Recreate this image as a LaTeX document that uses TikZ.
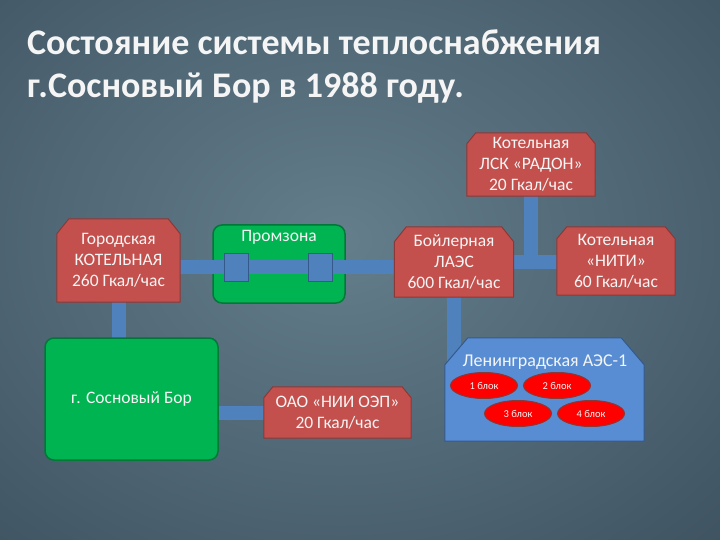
\documentclass[tikz,border=0pt]{standalone}
\usepackage{fontspec}
\setmainfont{Carlito}
\usetikzlibrary{shapes.geometric,calc}

\definecolor{bgin}{RGB}{100,126,140}
\definecolor{bgmid}{RGB}{48,66,80}
\definecolor{bgout}{RGB}{28,38,50}
\definecolor{boxred}{RGB}{196,80,77}
\definecolor{edgered}{RGB}{140,56,54}
\definecolor{boxgreen}{RGB}{0,180,82}
\definecolor{edgegreen}{RGB}{0,120,55}
\definecolor{pipeblue}{RGB}{79,129,189}
\definecolor{edgeblue}{RGB}{52,90,140}
\definecolor{laesblue}{RGB}{88,141,212}
\definecolor{unitred}{RGB}{255,0,0}
\definecolor{textwhite}{RGB}{245,245,245}

\pgfdeclareradialshading{slidebg}{\pgfpoint{0bp}{0bp}}{color(0bp)=(bgin); color(50bp)=(bgmid); color(71bp)=(bgout)}
\pgfdeclarelayer{back}
\pgfdeclarelayer{low}
\pgfdeclarelayer{pipes}
\pgfdeclarelayer{shapes}
\pgfsetlayers{back,low,pipes,shapes,main}

% box with both top corners cut off: node, cut x, cut y, style
\newcommand{\cutbox}[4]{%
  \begin{pgfonlayer}{shapes}
    \filldraw[#4] (#1.south west) -- ($(#1.north west)+(0,#3)$) -- ($(#1.north west)+(#2,0)$)
      -- ($(#1.north east)+(-#2,0)$) -- ($(#1.north east)+(0,#3)$) -- (#1.south east) -- cycle;
  \end{pgfonlayer}}

\begin{document}
\begin{tikzpicture}[x=1pt,y=-1pt,
    boxtext/.style={text=textwhite,font=\fontsize{17.5}{21}\selectfont,align=center},
    plant/.style={boxtext,rectangle,inner sep=0pt},
    cutred/.style={fill=boxred,draw=edgered,line width=1pt},
    cutblue/.style={fill=laesblue,draw=edgeblue,line width=1pt},
    zone/.style={boxtext,rectangle,rounded corners=9pt,fill=boxgreen,draw=edgegreen,line width=1.5pt},
    pipe/.style={pipeblue,line width=14pt},
    valve/.style={rectangle,fill=pipeblue,draw=edgeblue,line width=1pt,minimum width=24pt,minimum height=28pt},
    unit/.style={ellipse,fill=unitred,draw=edgered,line width=1pt,minimum width=67pt,minimum height=26pt,
      inner sep=0pt,text=textwhite,font=\fontsize{10.5}{12}\selectfont}]
  \useasboundingbox (0,0) rectangle (720,540);
  \begin{pgfonlayer}{back}
    \shade[shading=slidebg] (-40,-60) rectangle (720,540);
  \end{pgfonlayer}

  \node[anchor=north west,inner sep=0pt,align=left,text=textwhite,font=\bfseries\fontsize{36}{43}\selectfont] (title) at (27,29)
    {Состояние системы теплоснабжения\\г.Сосновый Бор в 1988 году.};

  % sources
  \node[plant,minimum width=123pt,minimum height=83pt] (gorod) at (118.5,260.5) {Городская\\КОТЕЛЬНАЯ\\260 Гкал/час};
  \node[plant,minimum width=128pt,minimum height=63pt] (radon) at (531,164.5) {Котельная\\ЛСК «РАДОН»\\20 Гкал/час};
  \node[plant,minimum width=119pt,minimum height=70pt] (boiler) at (454,262) {Бойлерная\\ЛАЭС\\600 Гкал/час};
  \node[plant,minimum width=118pt,minimum height=68pt] (niti) at (616,261) {Котельная\\«НИТИ»\\60 Гкал/час};
  \node[plant,minimum width=147pt,minimum height=51pt] (oao) at (337.5,412.5) {ОАО «НИИ ОЭП»\\20 Гкал/час};
  \foreach \b/\cx/\cy in {gorod/12/15,radon/9/11,boiler/12/15,niti/10/12,oao/9/11}
    \cutbox{\b}{\cx}{\cy}{cutred};

  % consumers
  \begin{pgfonlayer}{low}
    \node[zone,minimum width=132pt,minimum height=78pt,
      label={[boxtext,anchor=north,inner sep=0pt,yshift=-6pt]north:Промзона}] (promzona) at (279,264) {};
  \end{pgfonlayer}
  \node[zone,minimum width=173pt,minimum height=122pt] (sbor) at (131.5,399) {г. Сосновый Бор};

  \node[valve] (v1) at (236,267) {};
  \node[valve] (v2) at (320,267) {};

  % LAES-1 with its units
  \node[plant,minimum width=199pt,minimum height=103pt] (laes) at (544.5,389.5) {};
  \cutbox{laes}{23}{27}{cutblue}
  \node[boxtext,font=\fontsize{18}{22}\selectfont,inner sep=0pt] (laestitle) at (545,362) {Ленинградская АЭС-1};
  \foreach \n/\x/\y in {1/484/385.5,2/557/385.5,3/518/413.5,4/591/413.5}
    \node[unit] (u\n) at (\x,\y) {\n\ блок};

  \begin{pgfonlayer}{pipes}
    \draw[pipe] (gorod.center |- v1) -- (v1) -- (v2) -- (boiler.center |- v2);
    \draw[pipe] (boiler.center) -- (niti.center |- boiler.center);
    \draw[pipe] (radon.center) -- (radon.center |- boiler.center);
    \draw[pipe] (gorod.center) -- (gorod.center |- sbor.center);
    \draw[pipe] (boiler.center) -- (boiler.center |- laes.center);
    \draw[pipe] (oao.center) -- (oao.center -| sbor.center);
  \end{pgfonlayer}
\end{tikzpicture}
\end{document}
